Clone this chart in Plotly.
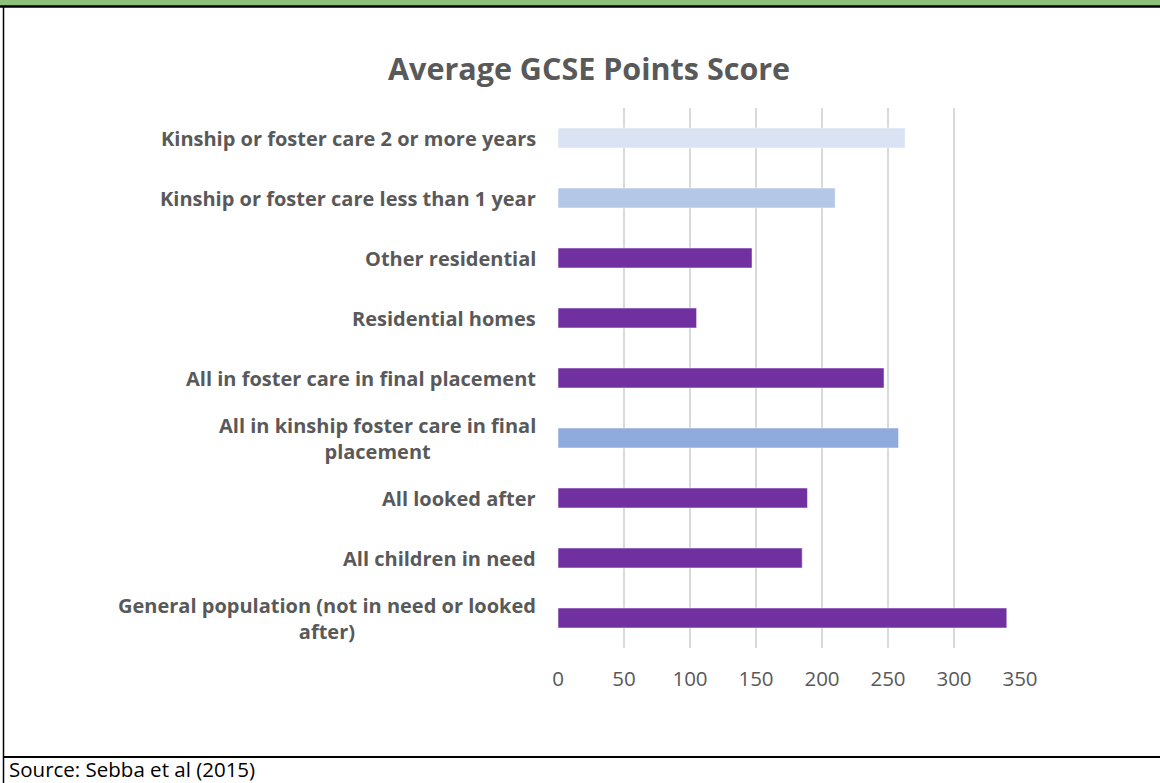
import plotly.graph_objects as go

categories = [
    "General population (not in need or looked<br>after)",
    "All children in need",
    "All looked after",
    "All in kinship foster care in final<br>placement",
    "All in foster care in final placement",
    "Residential homes",
    "Other residential",
    "Kinship or foster care less than 1 year",
    "Kinship or foster care 2 or more years",
]
values = [340, 185, 189, 258, 247, 105, 147, 210, 263]
colors = ["#7030A0", "#7030A0", "#7030A0", "#8FAADC", "#7030A0",
          "#7030A0", "#7030A0", "#B4C7E7", "#DAE3F3"]
x_ticks = [0, 50, 100, 150, 200, 250, 300, 350]

W, H = 1160, 783
L, R, T, B = 558, 1020, 108, 648
pw, ph = R - L, B - T


def px(x):
    return (x - L) / pw


def py(y):
    return (B - y) / ph


fig = go.Figure(go.Bar(
    y=categories, x=values, orientation="h",
    marker=dict(color=colors, line=dict(color="rgba(255,255,255,0.5)", width=1)),
    hoverinfo="x+y",
))

gray = "#595959"
FONT = "Open Sans, sans-serif"
fig.update_layout(
    width=W, height=H,
    margin=dict(l=L, r=W - R, t=T, b=H - B),
    paper_bgcolor="white", plot_bgcolor="white",
    bargap=0.667,
    showlegend=False,
    font=dict(family=FONT, color=gray),
    xaxis=dict(range=[0, 350], tickvals=x_ticks, showgrid=True, gridcolor="#D9D9D9",
               gridwidth=1.5, zeroline=False, showline=False,
               ticks="outside", ticklen=12, tickcolor="rgba(0,0,0,0)",
               tickfont=dict(size=20.5, color=gray, family=FONT)),
    yaxis=dict(showticklabels=False, showgrid=False, zeroline=False, showline=False,
               categoryorder="array", categoryarray=categories),
)

# title
fig.add_annotation(text="<b>Average GCSE Points Score</b>", xref="paper", yref="paper",
                   x=px(589), y=py(68), showarrow=False, xanchor="center", yanchor="middle",
                   font=dict(size=30.5, color=gray, family=FONT))

# category labels (centered multi-line)
for c in categories:
    fig.add_annotation(text="<b>" + c + "</b>", xref="paper", yref="y", x=px(538), y=c,
                       showarrow=False, xanchor="right", yanchor="middle", align="center",
                       font=dict(size=20, color=gray, family=FONT))

# source
fig.add_annotation(text="Source: Sebba et al (2015)", xref="paper", yref="paper",
                   x=px(7), y=py(769), showarrow=False, xanchor="left", yanchor="middle",
                   font=dict(size=20.5, color="black", family=FONT))

# frame: green header bar, borders
fig.add_shape(type="rect", xref="paper", yref="paper", x0=px(0), x1=px(W), y0=py(0), y1=py(6),
              fillcolor="#8CC07C", line=dict(width=0), layer="below")
fig.add_shape(type="line", xref="paper", yref="paper", x0=px(0), x1=px(W), y0=py(6.5), y1=py(6.5),
              line=dict(color="black", width=2.5))
fig.add_shape(type="line", xref="paper", yref="paper", x0=px(3.5), x1=px(3.5), y0=py(6), y1=py(H),
              line=dict(color="black", width=1.5))
fig.add_shape(type="line", xref="paper", yref="paper", x0=px(3), x1=px(W), y0=py(757), y1=py(757),
              line=dict(color="black", width=2))

fig.write_html("out.html", config={"displayModeBar": False},
               post_script="document.body.style.margin='0';document.body.style.overflow='hidden';")
